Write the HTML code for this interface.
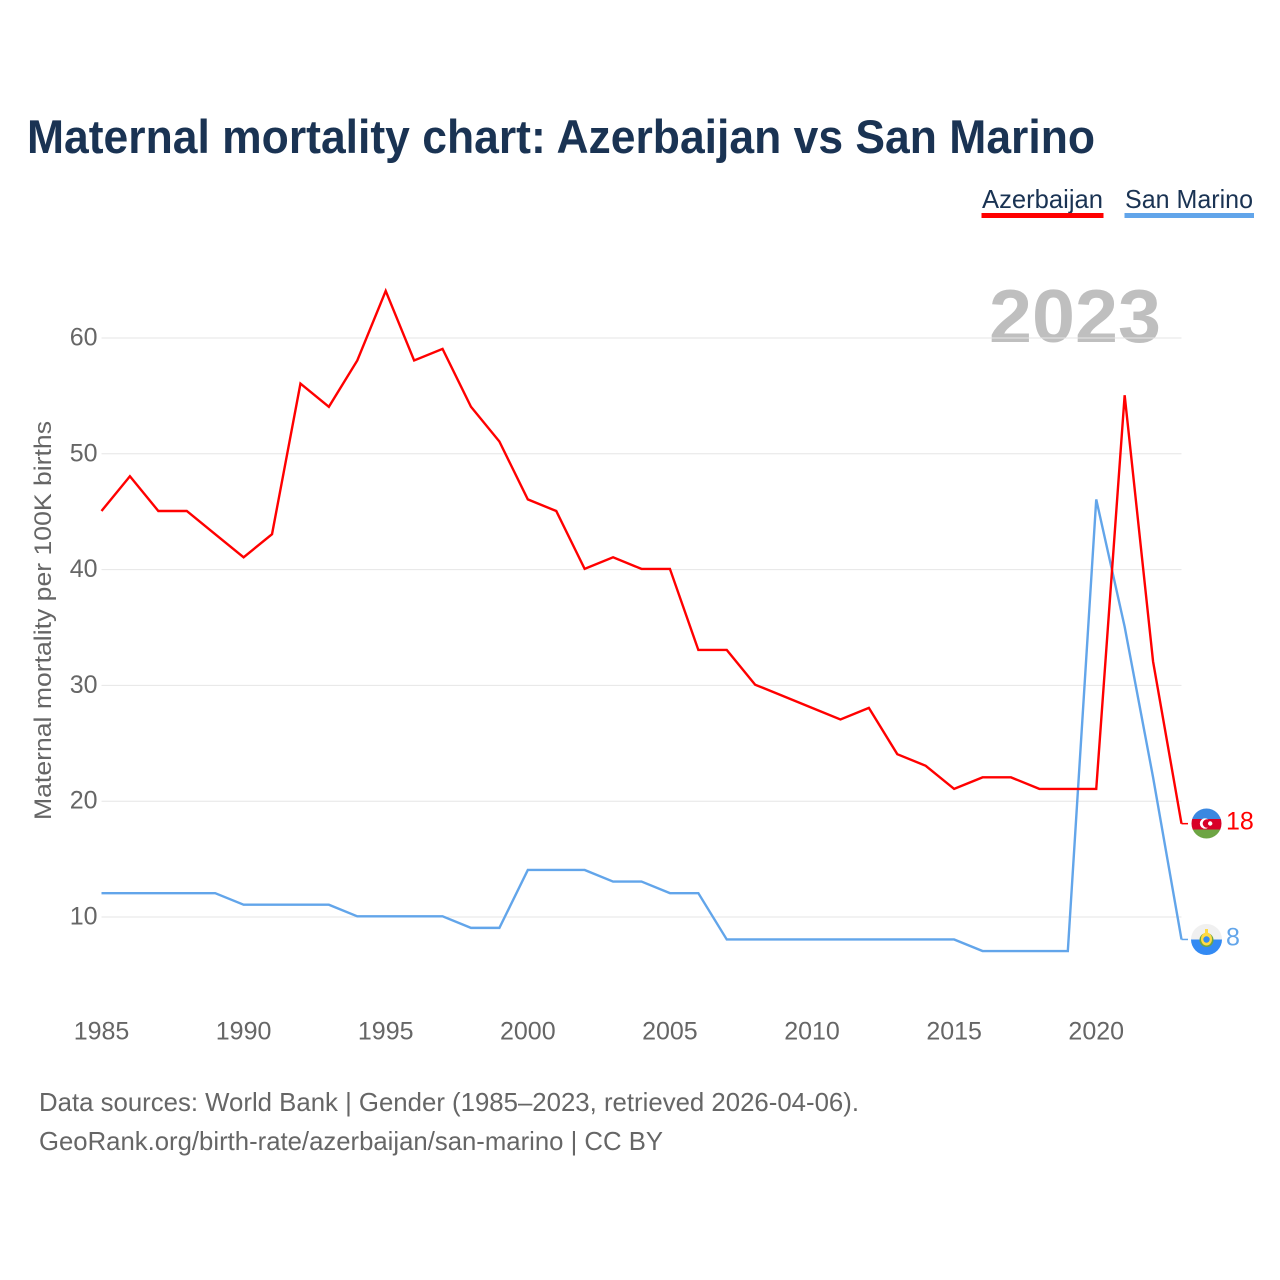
<!DOCTYPE html>
<html lang="en">
<head>
<meta charset="utf-8">
<title>Maternal mortality chart: Azerbaijan vs San Marino</title>
<style>
html,body{margin:0;padding:0;background:#fff;width:1280px;height:1280px;overflow:hidden}
svg{display:block}
text{font-family:"Liberation Sans",sans-serif}
</style>
</head>
<body>
<svg id="chart" xmlns="http://www.w3.org/2000/svg" width="1280" height="1280" viewBox="0 0 1280 1280">
  <defs>
    <clipPath id="clip-az"><circle cx="1206.5" cy="823.5" r="15"/></clipPath>
    <clipPath id="clip-sm"><circle cx="1206.5" cy="939.5" r="15.500"/></clipPath>
  </defs>
  <text x="27" y="153" font-size="47" font-weight="700" fill="#1a3353" textLength="1068" lengthAdjust="spacingAndGlyphs">Maternal mortality chart: Azerbaijan vs San Marino</text>

  <g>
    <text x="982" y="208" font-size="26" fill="#1a3353" textLength="121" lengthAdjust="spacingAndGlyphs">Azerbaijan</text>
    <rect x="981.500" y="213" width="122" height="5" fill="#ff0000"/>
  </g>
  <g>
    <text x="1125" y="208" font-size="26" fill="#1a3353" textLength="128" lengthAdjust="spacingAndGlyphs">San Marino</text>
    <rect x="1124.500" y="213" width="129.500" height="5" fill="#62a5ea"/>
  </g>

  <text x="989" y="342" font-size="75" font-weight="700" fill="#bfbfbf" textLength="172" lengthAdjust="spacingAndGlyphs">2023</text>

  <g id="grid"></g>
  <g id="yticks"></g>
  <g id="xticks"></g>

  <text transform="translate(51,820) rotate(-90)" x="0" y="0" font-size="24" fill="#666666" textLength="399" lengthAdjust="spacingAndGlyphs">Maternal mortality per 100K births</text>

  <g id="series" transform="translate(0,-0.7)"></g>

  <g id="flag-az">
    <g clip-path="url(#clip-az)">
      <rect x="1191" y="808" width="31" height="12" fill="#3b88e0"/>
      <rect x="1191" y="819" width="31" height="11" fill="#d80027"/>
      <rect x="1191" y="829.500" width="31" height="10" fill="#6da544"/>
      <circle cx="1205" cy="823.500" r="5.200" fill="#fff"/>
      <circle cx="1207" cy="823.500" r="4.300" fill="#d80027"/>
      <circle cx="1210.200" cy="823.500" r="2.200" fill="#fff"/>
    </g>
  </g>
  <g id="flag-sm">
    <g clip-path="url(#clip-sm)">
      <rect x="1191" y="924" width="31" height="16" fill="#f0f0f0"/>
      <rect x="1191" y="939.500" width="31" height="16" fill="#338af3"/>
      <ellipse cx="1206.500" cy="940" rx="7" ry="7" fill="#6da544"/>
      <ellipse cx="1206.500" cy="939" rx="5.500" ry="6.500" fill="#ffda44"/>
      <circle cx="1206.500" cy="939.500" r="3.200" fill="#338af3"/>
      <rect x="1205" y="929" width="3" height="5" fill="#ffda44"/>
    </g>
  </g>

  <text x="39" y="1111" font-size="26" fill="#666666" textLength="820" lengthAdjust="spacingAndGlyphs">Data sources: World Bank | Gender (1985–2023, retrieved 2026-04-06).</text>
  <text x="39" y="1150" font-size="26" fill="#666666" textLength="624" lengthAdjust="spacingAndGlyphs">GeoRank.org/birth-rate/azerbaijan/san-marino | CC BY</text>
</svg>
<script>
const years = [1985,1986,1987,1988,1989,1990,1991,1992,1993,1994,1995,1996,1997,1998,1999,2000,2001,2002,2003,2004,2005,2006,2007,2008,2009,2010,2011,2012,2013,2014,2015,2016,2017,2018,2019,2020,2021,2022,2023];
const azerbaijan = [45,48,45,45,43,41,43,56,54,58,64,58,59,54,51,46,45,40,41,40,40,33,33,30,29,28,27,28,24,23,21,22,22,21,21,21,55,32,18];
const sanMarino = [12,12,12,12,12,11,11,11,11,10,10,10,10,9,9,14,14,14,13,13,12,12,8,8,8,8,8,8,8,8,8,7,7,7,7,46,35,22,8];
const yTickValues = [10,20,30,40,50,60];
const xTickValues = [1985,1990,1995,2000,2005,2010,2015,2020];

const NS = 'http://www.w3.org/2000/svg';
function xScale(year) { return 101.5 + (year - 1985) * (1181.5 - 101.5) / 38; }
function yScale(value) { return 917 - (value - 10) * (917 - 338) / 50; }
function make(tag, attrs, parent) {
  const el = document.createElementNS(NS, tag);
  for (const k in attrs) el.setAttribute(k, attrs[k]);
  parent.appendChild(el);
  return el;
}

const grid = document.getElementById('grid');
const yticks = document.getElementById('yticks');
yTickValues.forEach(function (v) {
  const line = make('line', {x1: 101.5, x2: 1181.5, y1: yScale(v), y2: yScale(v), stroke: '#e6e6e6', 'stroke-width': 1}, grid);
  
  
  const label = make('text', {x: 97.5, y: yScale(v) + 7.5, 'text-anchor': 'end', 'font-size': 25, fill: '#666666'}, yticks);
  
  
  label.textContent = v;
});

const xticks = document.getElementById('xticks');
xTickValues.forEach(function (v) {
  const label = make('text', {x: xScale(v), y: 1039.5, 'text-anchor': 'middle', 'font-size': 25, fill: '#666666'}, xticks);
  
  
  label.textContent = v;
});

const series = document.getElementById('series');
function drawSeries(values, color, flagId, labelName, lineName, labelX) {
  const pts = values.map(function (v, i) { return xScale(years[i]).toFixed(2) + ',' + yScale(v).toFixed(2); });
  const line = make('polyline', {points: pts.join(' '), fill: 'none', stroke: color, 'stroke-width': 2.4, 'stroke-linejoin': 'miter'}, series);
  
  
  const last = values[values.length - 1];
  const lastY = yScale(last);
  const conn = make('line', {x1: 1181.5, x2: 1188, y1: lastY, y2: lastY, stroke: color, 'stroke-width': 1.5}, series);
  
  
  const label = make('text', {x: labelX, y: lastY + 6, 'font-size': 25, fill: color}, series);
  
  
  label.textContent = last;
  const flag = document.getElementById(flagId);
  const baseY = flagId === 'flag-az' ? yScale(18) : yScale(8);
  flag.setAttribute('transform', 'translate(0,' + (lastY - baseY).toFixed(2) + ')');
}
drawSeries(sanMarino, '#62a5ea', 'flag-sm', 'san-marino-end-label', 'san-marino-line', 1226);
drawSeries(azerbaijan, '#ff0000', 'flag-az', 'azerbaijan-end-label', 'azerbaijan-line', 1226);
</script>
</body>
</html>
